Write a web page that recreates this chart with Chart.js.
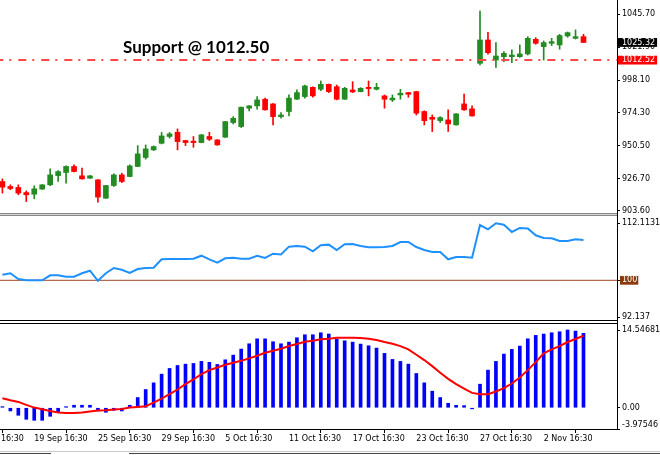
<!DOCTYPE html>
<html>
<head>
<meta charset="utf-8">
<script src="https://cdn.jsdelivr.net/npm/chart.js@4.4.1/dist/chart.umd.min.js"></script>
<style>
html,body{margin:0;padding:0;background:#fff;width:660px;height:455px;overflow:hidden;}
#wrap{position:relative;width:660px;height:455px;background:#fff;}
canvas{position:absolute;left:0;display:block;}
.ln{position:absolute;z-index:5;}
#support{position:absolute;left:123px;top:38px;font-family:Lato,"Open Sans",sans-serif;font-weight:bold;font-size:17px;line-height:17px;color:#000;white-space:nowrap;z-index:6;}
</style>
</head>
<body>
<div id="wrap">
  <canvas id="c1" width="660" height="213" style="top:0"></canvas>
  <canvas id="c2" width="660" height="105" style="top:216px"></canvas>
  <canvas id="c3" width="660" height="131" style="top:324px"></canvas>
  <div id="support">Support @ 1012.50</div>
  <div class="ln" style="left:0;top:213px;width:617px;height:1px;background:#888"></div>
  <div class="ln" style="left:0;top:214px;width:617px;height:1px;background:#d8d8d8"></div>
  <div class="ln" style="left:0;top:215px;width:617px;height:1px;background:#888"></div>
  <div class="ln" style="left:0;top:320px;width:617px;height:1px;background:#000"></div>
  <div class="ln" style="left:0;top:323px;width:617px;height:1px;background:#000"></div>
  <div class="ln" style="left:617px;top:0;width:1px;height:430px;background:#000"></div>
  <div class="ln" style="left:0;top:451px;width:660px;height:1px;background:#c8c8c8"></div>
  <div class="ln" style="left:0;top:453px;width:51px;height:1px;background:#444"></div>
  <div class="ln" style="left:129px;top:453px;width:531px;height:1px;background:#444"></div>
</div>
<script>
// ---- Price candles (one per bar) ----
const open  = [924.6,921.0,920.3,916.6,915.4,919.1,922.2,928.9,931.1,935.5,928.7,927.0,925.8,912.5,921.7,929.4,928.2,935.5,942.0,947.5,952.3,957.2,960.3,954.3,953.8,952.8,957.2,954.7,956.7,967.3,964.4,977.7,979.4,984.2,980.8,971.6,975.3,984.2,986.1,992.8,991.4,995.0,993.3,984.2,990.9,989.7,992.8,991.4,986.6,983.7,987.3,989.0,989.7,975.3,971.1,968.7,969.2,965.6,980.8,977.2,1010.2,1027.1,1012.6,1015.0,1015.0,1015.0,1017.0,1027.6,1022.3,1024.7,1023.5,1030.0,1028.3,1029.5];
const high  = [926.5,922.2,922.2,917.8,921.5,922.4,933.8,932.6,935.9,936.7,934.3,929.0,926.0,921.9,930.1,930.6,936.7,950.6,951.1,950.4,960.1,960.1,962.7,954.5,957.2,958.6,960.3,955.0,968.2,971.6,978.6,979.6,986.1,985.0,981.0,974.5,987.3,991.0,994.5,993.1,997.4,995.2,994.5,992.8,996.9,992.6,997.4,995.7,987.3,987.3,991.4,989.2,990.0,975.8,972.8,971.6,976.5,973.8,988.0,979.4,1048.1,1032.7,1025.2,1018.7,1019.9,1023.5,1029.5,1028.8,1026.4,1028.3,1031.2,1032.9,1034.4,1031.2];
const low   = [916.2,918.6,915.0,910.1,912.1,918.9,921.5,924.6,923.4,931.6,926.3,926.8,909.6,912.3,921.0,923.8,928.0,935.3,940.8,947.0,951.8,956.0,947.5,950.6,949.4,952.6,954.3,950.8,956.5,966.3,963.7,975.7,977.0,976.3,965.6,970.4,972.1,984.0,985.0,985.6,990.4,989.0,983.7,984.0,989.0,989.5,986.6,990.9,977.7,982.5,984.2,985.6,972.8,965.6,960.8,967.3,960.8,965.4,976.0,971.9,1009.0,1016.9,1007.3,1011.4,1010.7,1014.5,1016.2,1024.0,1012.6,1023.0,1020.4,1029.1,1027.8,1025.2];
const close = [920.5,919.5,916.2,915.0,919.3,922.2,929.4,931.8,935.5,931.8,926.5,928.7,913.3,921.7,929.4,924.6,935.9,944.6,948.2,949.9,957.6,959.1,953.5,952.8,952.8,958.4,955.2,951.1,968.0,970.4,978.4,979.4,983.7,976.5,971.6,972.8,985.0,989.0,993.8,986.6,995.0,989.7,984.2,992.1,989.5,992.1,991.9,992.8,984.2,985.0,988.5,987.8,974.1,968.7,969.7,970.9,966.3,973.6,976.5,972.1,1027.1,1017.9,1015.5,1017.4,1016.2,1017.0,1028.3,1024.7,1025.2,1025.9,1030.3,1032.4,1029.5,1025.32];
const supportLevel = 1012.52;
const currentPrice = 1025.32;

// ---- Momentum panel ----
const momentum = [101.19,101.49,100.28,100.0,100.0,100.0,101.06,101.06,100.77,100.77,101.49,102.04,99.9,101.49,102.61,102.25,101.55,102.4,102.61,102.68,104.46,104.53,104.53,104.53,104.6,105.23,104.46,103.75,104.67,104.81,104.6,104.6,105.23,104.74,105.65,105.5,107.15,107.3,107.15,106.16,107.44,107.58,106.44,107.65,107.72,107.29,107.0,107.0,107.07,107.29,108.14,108.14,107.07,106.44,106.0,106.0,104.46,104.95,104.95,104.8,111.75,110.84,112.1131,111.82,110.27,111.12,111.0,109.56,108.99,108.92,108.35,108.35,108.71,108.57];
const momentumLevel = 100;

// ---- Oscillator panel ----
const histogram = [0.2,-0.6,-1.41,-2.16,-2.35,-2.35,-1.6,-0.84,0.2,0.47,0.47,0.47,-0.6,-0.84,-0.47,-0.6,0.47,1.91,3.41,4.66,6.29,7.35,7.91,8.16,8.29,8.67,8.5,8.1,8.97,9.85,10.98,11.97,12.9,12.9,12.35,11.97,12.28,13.1,13.66,13.66,14.03,13.8,12.83,12.53,12.28,11.91,11.6,11.16,10.17,9.04,8.67,8.16,6.41,4.66,3.1,1.91,0.84,0.45,0.4,-0.2,4.41,7.04,8.67,10.04,10.92,11.54,12.9,13.54,13.79,14.03,14.22,14.54681,14.35,13.92];
const signal = [1.78,1.41,1.09,0.53,0.03,-0.28,-0.6,-0.9,-0.97,-0.97,-0.9,-0.72,-0.53,-0.47,-0.34,-0.22,0.03,0.16,0.28,0.97,1.72,2.53,3.41,4.41,5.29,6.29,7.04,7.54,8.04,8.42,8.79,9.23,9.73,10.29,10.67,11.04,11.54,11.92,12.35,12.54,12.8,12.92,13.1,13.1,13.1,13.04,12.92,12.67,12.3,11.98,11.54,10.92,9.92,8.92,7.79,6.54,5.41,4.41,3.6,2.78,2.53,2.53,3.04,3.66,4.54,5.67,7.04,8.54,10.17,10.92,11.54,12.3,12.86,13.48];

// ---- Axis ticks ----
const priceTicks = [903.60,926.70,950.50,974.30,998.10,1021.90,1045.70,supportLevel,currentPrice];
const priceTickLabels = ['903.60','926.70','950.50','974.30','998.10','1021.90','1045.70','1012.52','1025.32'];
const momTicks = [92.137,100,112.1131];
const momTickLabels = ['92.137','100','112.1131'];
const oscTicks = [-3.97546,0,14.54681];
const oscTickLabels = ['-3.97546','0.00','14.54681'];
const xTickIndex = [-4,4,12,20,28,36,44,52,60,68];
const xTickLabels = ['13 Sep 16:30','19 Sep 16:30','25 Sep 16:30','29 Sep 16:30','5 Oct 16:30','11 Oct 16:30','17 Oct 16:30','23 Oct 16:30','27 Oct 16:30','2 Nov 16:30'];

// ---- view settings ----
const X_MIN = -0.3015, X_MAX = 77.21;
const GREEN = '#228b22', RED = '#ff0000';
const FONT = {family:'"DejaVu Sans", Tahoma, sans-serif', size:8, lineHeight:1.1};

function yAxis(min, max, ticks, labels) {
  return {
    type:'linear', position:'right', min:min, max:max,
    afterBuildTicks: s => { s.ticks = ticks.map(v => ({value:v})); },
    afterFit: s => { s.width = 43; s.paddingTop = 0; s.paddingBottom = 0; },
    ticks: {autoSkip:false, padding:2, color:'#000', font:FONT,
      callback:(v,i) => labels[i]},
    grid: {drawOnChartArea:false, drawTicks:true, tickLength:3, tickColor:'#000'},
    border: {display:true, color:'#000', width:1}
  };
}
function hiddenX() {
  return {type:'linear', min:X_MIN, max:X_MAX, offset:false, display:false};
}
const base = {
  responsive:false, animation:false, events:[],
  layout:{padding:0},
  plugins:{legend:{display:false}, tooltip:{enabled:false}}
};

// ---- Chart 1: candles ----
const candleColor = open.map((o,i) => close[i] >= o ? GREEN : RED);
const isBoxed = ctx => !!ctx.tick && (ctx.tick.value === currentPrice || ctx.tick.value === supportLevel);
const topY = yAxis(901.79, 1056.06, priceTicks, priceTickLabels);
topY.ticks.color = ctx => isBoxed(ctx) ? '#fff' : '#000';
topY.ticks.showLabelBackdrop = isBoxed;
topY.ticks.backdropColor = ctx => (ctx.tick && ctx.tick.value === currentPrice) ? '#000' : '#ff0000';
topY.ticks.backdropPadding = {left:4, right:2, top:0, bottom:0};

new Chart(document.getElementById('c1'), {
  type:'bar',
  data:{datasets:[
    {type:'line', order:0, data:[{x:X_MIN,y:supportLevel},{x:X_MAX,y:supportLevel}],
     borderColor:'#ff4848', borderWidth:2, borderDash:[8,6,2,7], borderDashOffset:4.7, pointRadius:0},
    {order:1, data:open.map((o,i)=>({x:i, y:[o, close[i]]})), backgroundColor:candleColor,
     borderWidth:0, barThickness:5, grouped:false, minBarLength:1},
    {order:2, data:low.map((l,i)=>({x:i, y:[l, high[i]]})), backgroundColor:candleColor,
     borderWidth:0, barThickness:1, grouped:false}
  ]},
  options:Object.assign({}, base, {scales:{x:hiddenX(), y:topY}})
});

// ---- Chart 2: momentum ----
const midY = yAxis(91.351, 113.664, momTicks, momTickLabels);
midY.ticks.color = ctx => (ctx.tick && ctx.tick.value === momentumLevel) ? '#fff' : '#000';
midY.ticks.showLabelBackdrop = ctx => !!ctx.tick && ctx.tick.value === momentumLevel;
midY.ticks.backdropColor = '#8b3a0e';
midY.ticks.backdropPadding = {left:2, right:1, top:0, bottom:0};

new Chart(document.getElementById('c2'), {
  type:'line',
  data:{datasets:[
    {order:0, data:momentum.map((v,i)=>({x:i,y:v})), borderColor:'#1e90ff', borderWidth:2, pointRadius:0, tension:0},
    {order:1, data:[{x:X_MIN,y:momentumLevel},{x:X_MAX,y:momentumLevel}], borderColor:'#a0461e', borderWidth:1, pointRadius:0}
  ]},
  options:Object.assign({}, base, {scales:{x:hiddenX(), y:midY}})
});

// ---- Chart 3: oscillator ----
const botY = yAxis(-3.97546, 15.67, oscTicks, oscTickLabels);
botY.ticks.callback = (v,i) => i === 0 ? [oscTickLabels[i], ''] : oscTickLabels[i];

new Chart(document.getElementById('c3'), {
  type:'bar',
  data:{datasets:[
    {type:'line', order:0, data:signal.map((v,i)=>({x:i,y:v})), borderColor:'#ff0000', borderWidth:2, pointRadius:0, tension:0},
    {order:1, data:histogram.map((v,i)=>({x:i,y:v})), backgroundColor:'#0000ff', borderWidth:0, barThickness:3, grouped:false, minBarLength:1}
  ]},
  options:Object.assign({}, base, {scales:{
    x:{type:'linear', position:'bottom', min:X_MIN, max:X_MAX, offset:false,
      afterBuildTicks: s => { s.ticks = xTickIndex.map(v => ({value:v})); },
      afterFit: s => { s.height = 26; s.paddingLeft = 0; s.paddingRight = 0; },
      ticks:{autoSkip:false, maxRotation:0, minRotation:0, align:'start', padding:2, color:'#000', font:FONT,
        callback:(v,i) => xTickLabels[i]},
      grid:{drawOnChartArea:false, drawTicks:true, tickLength:4, tickColor:'#000'},
      border:{display:true, color:'#000', width:1}
    },
    y: botY
  }})
});
</script>
</body>
</html>
